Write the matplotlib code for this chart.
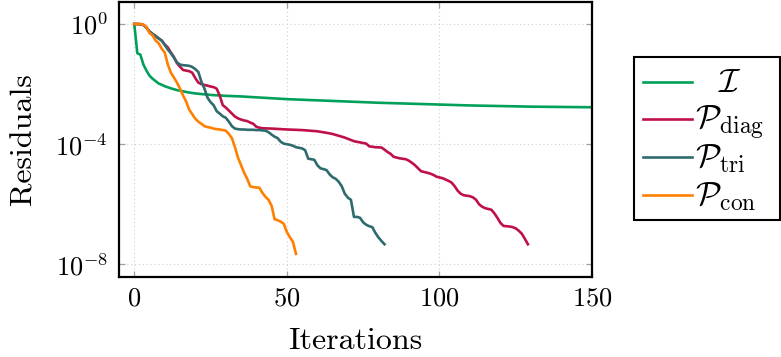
import numpy as np
import matplotlib
matplotlib.use("Agg")
import matplotlib.pyplot as plt
from matplotlib.ticker import FixedLocator, FixedFormatter, NullLocator
from matplotlib.patches import Rectangle
from matplotlib.lines import Line2D

plt.rcParams['font.family'] = 'serif'
plt.rcParams['font.serif'] = ['cmr10', 'DejaVu Serif']
plt.rcParams['mathtext.fontset'] = 'cm'
plt.rcParams['axes.formatter.use_mathtext'] = True

# ---- data (log10 of residuals) ----
it_I = [0, 1, 2, 3, 4, 5, 6, 7, 8, 9, 10, 12, 14, 16, 18, 20, 25, 30, 35, 40, 45,
        50, 60, 70, 80, 90, 100, 110, 120, 130, 140, 150]
log_I = [0, -0.97, -1.02, -1.35, -1.55, -1.72, -1.82, -1.9, -1.98, -2.02, -2.07,
         -2.14, -2.2, -2.24, -2.28, -2.31, -2.36, -2.39, -2.41, -2.44, -2.47,
         -2.5, -2.54, -2.58, -2.62, -2.65, -2.68, -2.71, -2.73, -2.75, -2.76, -2.77]

it_diag = [0, 2, 3, 4, 5, 6, 7, 8, 9, 10, 11, 12, 13, 14, 15, 16, 17, 18, 19, 20,
           21, 22, 23, 24, 25, 26, 27, 28, 29, 30, 31, 32, 33, 34, 35, 36, 37, 38,
           39, 40, 41, 42, 45, 50, 55, 60, 63, 65, 67, 69, 71, 72, 74, 76, 77, 79,
           81, 82, 83, 84, 85, 87, 89, 90, 91, 92, 93, 94, 96, 97, 98, 99, 101,
           103, 104, 105, 106, 107, 108, 110, 111, 112, 113, 114, 115, 117, 118,
           119, 120, 121, 123, 124, 125, 126, 127, 128, 129]
log_diag = [0, 0, -0.03, -0.12, -0.25, -0.33, -0.4, -0.48, -0.55, -0.68, -0.78,
            -0.95, -1.1, -1.3, -1.42, -1.53, -1.55, -1.57, -1.62, -1.8, -1.95,
            -2.0, -2.03, -2.05, -2.08, -2.1, -2.15, -2.38, -2.7, -2.78, -2.88,
            -2.98, -3.08, -3.14, -3.18, -3.21, -3.23, -3.28, -3.32, -3.42, -3.45,
            -3.47, -3.48, -3.51, -3.53, -3.57, -3.62, -3.66, -3.72, -3.78, -3.86,
            -3.9, -3.94, -3.98, -4.07, -4.1, -4.11, -4.18, -4.26, -4.32, -4.42,
            -4.47, -4.5, -4.55, -4.62, -4.7, -4.8, -4.9, -4.95, -4.98, -5.02,
            -5.08, -5.13, -5.22, -5.28, -5.4, -5.55, -5.65, -5.7, -5.73, -5.77,
            -5.85, -6.0, -6.08, -6.13, -6.18, -6.3, -6.45, -6.62, -6.72, -6.74,
            -6.76, -6.8, -6.88, -6.98, -7.15, -7.33]

log_tri = [0, 0, -0.01, -0.03, -0.12, -0.25, -0.33, -0.4, -0.48, -0.55, -0.7,
           -0.85, -0.97, -1.12, -1.28, -1.35, -1.37, -1.38, -1.39, -1.43, -1.5,
           -1.6, -1.92, -2.15, -2.45, -2.6, -2.7, -2.9, -2.98, -3.07, -3.12,
           -3.25, -3.4, -3.48, -3.5, -3.51, -3.51, -3.52, -3.52, -3.52, -3.53,
           -3.53, -3.54, -3.55, -3.6, -3.68, -3.75, -3.8, -3.92, -3.98, -4.0,
           -4.02, -4.05, -4.1, -4.12, -4.14, -4.2, -4.48, -4.5, -4.52, -4.7,
           -4.8, -4.83, -4.86, -5.0, -5.1, -5.15, -5.25, -5.4, -5.65, -5.78,
           -5.85, -6.42, -6.42, -6.45, -6.6, -6.68, -6.73, -6.76, -6.95, -7.1,
           -7.22, -7.33]
it_tri = list(range(len(log_tri)))

log_con = [0, 0, 0, -0.02, -0.1, -0.3, -0.38, -0.55, -0.64, -0.82, -0.95, -1.35,
           -1.62, -1.78, -1.95, -2.15, -2.38, -2.58, -2.85, -3.0, -3.15, -3.25,
           -3.32, -3.4, -3.43, -3.45, -3.48, -3.5, -3.51, -3.53, -3.55, -3.66,
           -3.8, -4.1, -4.45, -4.7, -4.95, -5.15, -5.4, -5.43, -5.44, -5.45,
           -5.62, -5.75, -5.85, -6.05, -6.5, -6.53, -6.58, -6.65, -6.92, -7.1,
           -7.25, -7.65]
it_con = list(range(len(log_con)))

labels = [r"$\mathcal{I}$", r"$\mathcal{P}_{\mathrm{diag}}$",
          r"$\mathcal{P}_{\mathrm{tri}}$", r"$\mathcal{P}_{\mathrm{con}}$"]
colors = ['#00A05A', '#C0104A', '#2E6B6E', '#FF8000']

xticks = [0, 50, 100, 150]
yticks = [1e0, 1e-4, 1e-8]
ytick_labels = [r"$10^{0}$", r"$10^{-4}$", r"$10^{-8}$"]

# ---- figure ----
W, H = 781, 357
fig = plt.figure(figsize=(W / 100, H / 100), dpi=100)
ax = fig.add_axes([119 / W, 1 - 277 / H, (592 - 119) / W, (277 - 1.5) / H])

series = [(it_I, log_I), (it_diag, log_diag), (it_tri, log_tri), (it_con, log_con)]
for (xs, ls), c, lab in zip(series, colors, labels):
    ax.plot(xs, 10.0 ** np.array(ls), color=c, lw=1.9, label=lab,
            solid_joinstyle='round')

ax.set_yscale('log')
ax.set_xlim(-5, 150)
ax.set_ylim(10 ** -8.42, 10 ** 0.75)

ax.xaxis.set_major_locator(FixedLocator(xticks))
ax.xaxis.set_major_formatter(FixedFormatter([rf"${v}$" for v in xticks]))
ax.yaxis.set_major_locator(FixedLocator(yticks))
ax.yaxis.set_major_formatter(FixedFormatter(ytick_labels))
ax.yaxis.set_minor_locator(NullLocator())
ax.xaxis.set_minor_locator(NullLocator())

ax.tick_params(which='major', direction='in', length=4.5, width=0.9,
               color='#a0a0a0', labelsize=19, top=True, right=True)
ax.tick_params(axis='y', pad=8)
ax.tick_params(axis='x', pad=7)

ax.grid(True, which='major', ls=(0, (1, 2.5)), color='#cfcfcf', lw=0.8)
for s in ax.spines.values():
    s.set_linewidth(1.6)
    s.set_color('black')

ax.set_xlabel("Iterations", fontsize=23)
ax.set_ylabel("Residuals", fontsize=23)
ax.xaxis.set_label_coords(0.5, -0.183)
ax.yaxis.set_label_coords(-0.172, 0.5)

# ---- legend (drawn in figure pixel layout, pgfplots style) ----
def fx(px):
    return px / W

def fy(py):
    return 1 - py / H

fig.add_artist(Rectangle((fx(634), fy(220)), (780 - 634) / W, (220 - 57) / H,
                         transform=fig.transFigure, facecolor='white',
                         edgecolor='black', lw=1.5, zorder=5))
row_y = [81.7, 119.3, 157.3, 195.0]
for i, (lab, c) in enumerate(zip(labels, colors)):
    yy = row_y[i]
    fig.add_artist(Line2D([fx(642.7), fx(691.7)], [fy(yy), fy(yy)],
                          transform=fig.transFigure, color=c, lw=1.9, zorder=6))
    if i == 0:
        fig.text(fx(730), fy(yy + 10.5), lab, fontsize=24, ha='center',
                 va='baseline', zorder=6)
    else:
        fig.text(fx(695), fy(yy + 10.5), lab, fontsize=24, ha='left',
                 va='baseline', zorder=6)

fig.savefig('out.png', dpi=100)
